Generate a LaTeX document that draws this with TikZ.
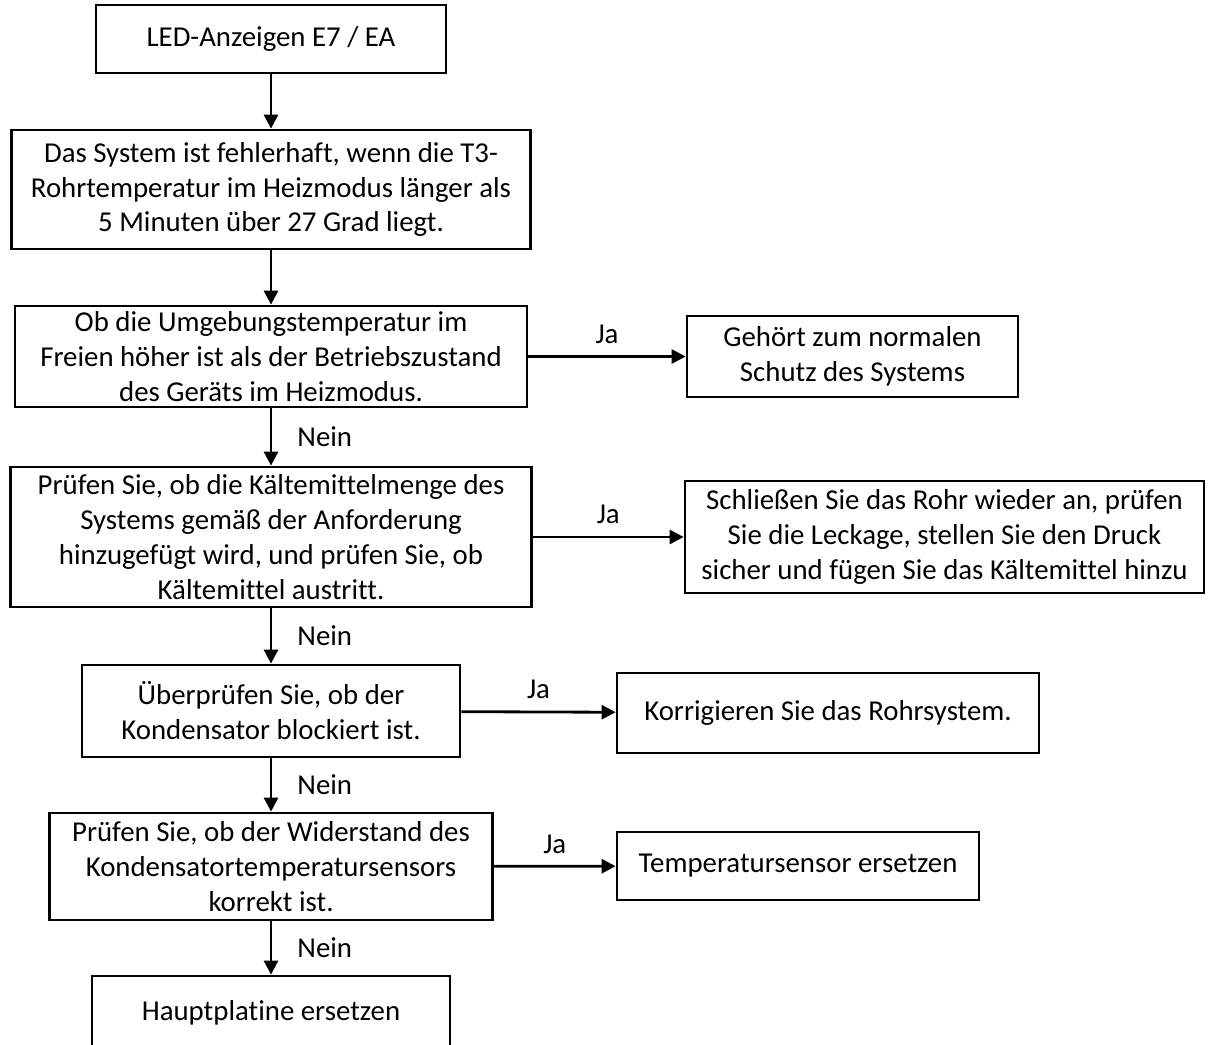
\documentclass[tikz,border=0pt]{standalone}
\usepackage{fontspec}
\setmainfont{Carlito}[Ligatures=CommonOff]
\usepackage{tikz}
\usetikzlibrary{arrows.meta,positioning}
\newcommand{\flowfont}{\fontsize{16.4}{19.9}\selectfont}

\begin{document}
\begin{tikzpicture}[
    x=0.02cm, y=-0.02cm,
    stepbox/.style={
      rectangle, draw=black, line width=1.6pt,
      font=\flowfont, align=center, inner sep=0pt
    },
    flow_arrow/.style={
      -{Triangle[length=8pt, width=8pt]}, line width=1.6pt, black
    },
    label_style/.style={
      font=\flowfont, midway, inner sep=0pt
    }
  ]
  \useasboundingbox (0,0) rectangle (1208,1045);
  \clip (0,0) rectangle (1208,1045);

  % --- main column ---
  \node[stepbox, minimum width=7cm, minimum height=1.36cm] (n1) at (271,39)
    {LED-Anzeigen E7 / EA};
  \node[stepbox, minimum width=10.38cm, minimum height=2.38cm] (n2) at (271,189.5)
    {Das System ist fehlerhaft, wenn die T3-\\Rohrtemperatur im Heizmodus länger als\\5 Minuten über 27 Grad liegt.};
  \node[stepbox, minimum width=10.24cm, minimum height=2.02cm] (n3) at (271,356.5)
    {Ob die Umgebungstemperatur im\\Freien höher ist als der Betriebszustand\\des Geräts im Heizmodus.};
  \node[stepbox, minimum width=10.42cm, minimum height=2.8cm] (n4) at (271,537)
    {Prüfen Sie, ob die Kältemittelmenge des\\Systems gemäß der Anforderung\\hinzugefügt wird, und prüfen Sie, ob\\Kältemittel austritt.};
  \node[stepbox, minimum width=7.56cm, minimum height=1.84cm] (n5) at (271,711)
    {Überprüfen Sie, ob der\\Kondensator blockiert ist.};
  \node[stepbox, minimum width=8.86cm, minimum height=2.14cm] (n6) at (271,866.5)
    {Prüfen Sie, ob der Widerstand des\\Kondensatortemperatursensors\\korrekt ist.};
  \node[stepbox, minimum width=7.16cm, minimum height=1.48cm] (n7) at (271,1013)
    {Hauptplatine ersetzen};

  % --- right column (Ja) ---
  \node[stepbox, minimum width=6.62cm, minimum height=1.62cm] (y3) at (852.5,356.5)
    {Gehört zum normalen\\Schutz des Systems};
  \node[stepbox, minimum width=10.38cm, minimum height=2.24cm] (y4) at (944.5,537)
    {Schließen Sie das Rohr wieder an, prüfen\\Sie die Leckage, stellen Sie den Druck\\sicher und fügen Sie das Kältemittel hinzu};
  \node[stepbox, minimum width=8.44cm, minimum height=1.6cm] (y5) at (828,713)
    {Korrigieren Sie das Rohrsystem.};
  \node[stepbox, minimum width=7.24cm, minimum height=1.36cm] (y6) at (798,866)
    {Temperatursensor ersetzen};

  \draw[flow_arrow] (n1) -- (n2);
  \draw[flow_arrow] (n2) -- (n3);
  \draw[flow_arrow] (n3) -- (n4)
    node[label_style, right=0.5cm] {Nein};
  \draw[flow_arrow] (n4) -- (n5)
    node[label_style, right=0.5cm] {Nein};
  \draw[flow_arrow] (n5) -- (n6)
    node[label_style, right=0.5cm] {Nein};
  \draw[flow_arrow] (n6) -- (n7)
    node[label_style, right=0.5cm] {Nein};

  \draw[flow_arrow] (n3) -- (y3)
    node[label_style, above=0.23cm] {Ja};
  \draw[flow_arrow] (n4) -- (y4)
    node[label_style, above=0.23cm] {Ja};
  \draw[flow_arrow] (n5) -- (y5)
    node[label_style, above=0.23cm] {Ja};
  \draw[flow_arrow] (n6) -- (y6)
    node[label_style, above=0.23cm] {Ja};
\end{tikzpicture}
\end{document}
